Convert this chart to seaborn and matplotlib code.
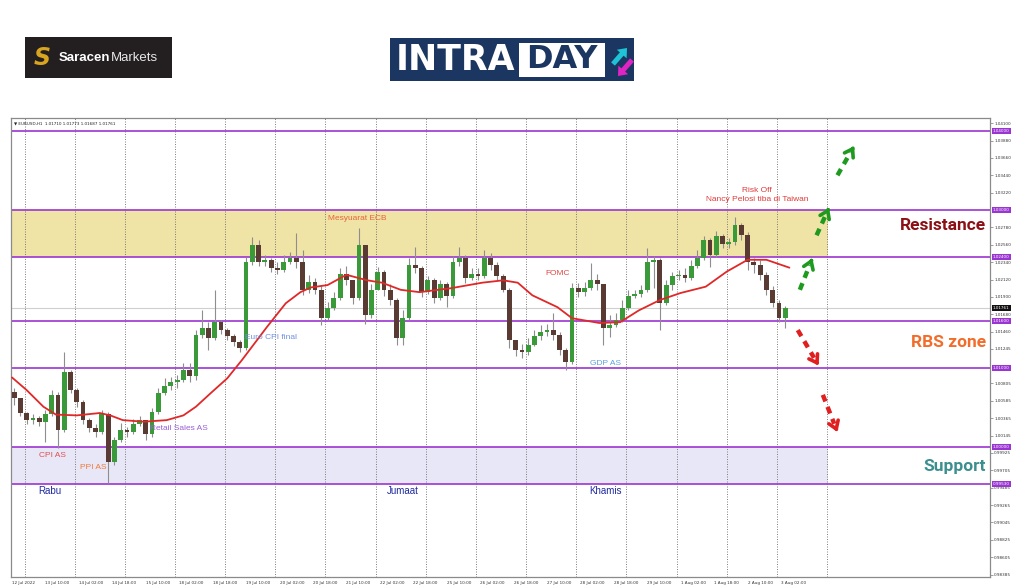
import numpy as np
import pandas as pd
import matplotlib
matplotlib.use('Agg')
import matplotlib.pyplot as plt
import matplotlib.transforms as mtransforms
from matplotlib.patches import Rectangle, FancyArrow
import seaborn as sns

# ---- data: EURUSD, 3-hour candles (x in hours from 12 Jul 18:00)
first_open = 1.0070
closes = [
    1.0062, 1.0043, 1.0034, 1.0037, 1.0032, 1.0042, 1.0066, 1.0022, 1.0095, 1.0072,
    1.0057, 1.0034, 1.0024, 1.0019, 1.0042, 0.9981, 1.0009, 1.0022, 1.0019, 1.0029,
    1.0034, 1.0016, 1.0044, 1.0068, 1.0077, 1.0082, 1.0085, 1.0097, 1.0090, 1.0142,
    1.0151, 1.0138, 1.0158, 1.0148, 1.0141, 1.0133, 1.0125, 1.0234, 1.0256, 1.0234,
    1.0237, 1.0227, 1.0224, 1.0234, 1.0239, 1.0234, 1.0199, 1.0209, 1.0199, 1.0163,
    1.0176, 1.0189, 1.0219, 1.0211, 1.0189, 1.0256, 1.0167, 1.0199, 1.0222, 1.0199,
    1.0186, 1.0138, 1.0163, 1.0230, 1.0227, 1.0196, 1.0211, 1.0189, 1.0206, 1.0191,
    1.0234, 1.0239, 1.0214, 1.0219, 1.0216, 1.0239, 1.0230, 1.0216, 1.0199, 1.0135,
    1.0123, 1.0120, 1.0129, 1.0141, 1.0146, 1.0148, 1.0142, 1.0123, 1.0108, 1.0201,
    1.0196, 1.0201, 1.0211, 1.0206, 1.0151, 1.0154, 1.0161, 1.0176, 1.0191, 1.0194,
    1.0199, 1.0234, 1.0237, 1.0182, 1.0205, 1.0216, 1.0218, 1.0214, 1.0229, 1.0239,
    1.0262, 1.0243, 1.0267, 1.0257, 1.0260, 1.0281, 1.0268, 1.0234, 1.0230, 1.0218,
    1.0199, 1.0182, 1.0163, 1.0176]
highs = [
    1.0075, 1.0062, 1.0044, 1.0042, 1.0039, 1.0047, 1.0072, 1.0070, 1.0120, 1.0097,
    1.0075, 1.0059, 1.0037, 1.0029, 1.0047, 1.0044, 1.0013, 1.0030, 1.0025, 1.0035,
    1.0039, 1.0034, 1.0049, 1.0075, 1.0087, 1.0089, 1.0091, 1.0106, 1.0106, 1.0148,
    1.0173, 1.0158, 1.0199, 1.0161, 1.0151, 1.0143, 1.0135, 1.0241, 1.0266, 1.0262,
    1.0243, 1.0239, 1.0234, 1.0243, 1.0247, 1.0271, 1.0249, 1.0218, 1.0214, 1.0205,
    1.0184, 1.0196, 1.0227, 1.0229, 1.0211, 1.0277, 1.0256, 1.0206, 1.0228, 1.0224,
    1.0206, 1.0189, 1.0173, 1.0239, 1.0253, 1.0229, 1.0216, 1.0214, 1.0211, 1.0209,
    1.0242, 1.0253, 1.0243, 1.0227, 1.0227, 1.0249, 1.0246, 1.0234, 1.0219, 1.0201,
    1.0135, 1.0130, 1.0138, 1.0148, 1.0154, 1.0156, 1.0170, 1.0146, 1.0125, 1.0208,
    1.0208, 1.0209, 1.0233, 1.0219, 1.0206, 1.0167, 1.0170, 1.0186, 1.0199, 1.0199,
    1.0205, 1.0252, 1.0242, 1.0239, 1.0211, 1.0222, 1.0224, 1.0227, 1.0237, 1.0249,
    1.0267, 1.0265, 1.0273, 1.0270, 1.0265, 1.0291, 1.0284, 1.0272, 1.0239, 1.0237,
    1.0222, 1.0204, 1.0186, 1.0178]
lows = [
    1.0053, 1.0039, 1.0029, 1.0029, 1.0027, 1.0006, 1.0039, 0.9999, 1.0019, 1.0068,
    1.0051, 1.0029, 1.0019, 1.0013, 1.0016, 0.9954, 0.9977, 1.0006, 1.0013, 1.0016,
    1.0027, 1.0009, 1.0013, 1.0042, 1.0066, 1.0072, 1.0075, 1.0082, 1.0082, 1.0085,
    1.0138, 1.0123, 1.0135, 1.0143, 1.0135, 1.0128, 1.0120, 1.0123, 1.0230, 1.0229,
    1.0229, 1.0222, 1.0219, 1.0222, 1.0232, 1.0227, 1.0192, 1.0195, 1.0194, 1.0154,
    1.0161, 1.0173, 1.0186, 1.0205, 1.0181, 1.0186, 1.0156, 1.0163, 1.0199, 1.0191,
    1.0180, 1.0129, 1.0129, 1.0161, 1.0220, 1.0190, 1.0194, 1.0182, 1.0186, 1.0177,
    1.0189, 1.0229, 1.0208, 1.0211, 1.0211, 1.0214, 1.0224, 1.0211, 1.0196, 1.0125,
    1.0115, 1.0113, 1.0116, 1.0128, 1.0135, 1.0141, 1.0135, 1.0116, 1.0097, 1.0105,
    1.0190, 1.0191, 1.0199, 1.0199, 1.0129, 1.0139, 1.0152, 1.0158, 1.0174, 1.0189,
    1.0190, 1.0196, 1.0201, 1.0148, 1.0180, 1.0199, 1.0211, 1.0209, 1.0211, 1.0227,
    1.0237, 1.0228, 1.0241, 1.0252, 1.0252, 1.0256, 1.0262, 1.0224, 1.0220, 1.0211,
    1.0192, 1.0177, 1.0158, 1.0151]

# moving average line
ma_hours = [0, 7, 15, 21, 31, 42, 47, 53, 63, 74, 82, 88, 95, 103, 110, 122, 131, 138,
            143, 151, 160, 170, 177, 186, 195, 210, 225, 235, 242, 249, 261, 268, 281,
            291, 300, 310, 320, 332, 342, 352, 361, 372]
ma_values = [1.0088, 1.0072, 1.0051, 1.0041, 1.0040, 1.0043, 1.0040, 1.0034, 1.0032,
             1.0034, 1.0040, 1.0051, 1.0068, 1.0087, 1.0110, 1.0152, 1.0182, 1.0196,
             1.0202, 1.0205, 1.0218, 1.0211, 1.0208, 1.0199, 1.0196, 1.0201, 1.0208,
             1.0211, 1.0208, 1.0192, 1.0177, 1.0163, 1.0157, 1.0158, 1.0173, 1.0186,
             1.0195, 1.0203, 1.0222, 1.0237, 1.0237, 1.0227]

levels = [1.04000, 1.03000, 1.02400, 1.01600, 1.01000, 1.00000, 0.99530]
last_price = 1.01761
resistance_zone = (1.02400, 1.03000)
support_zone = (0.99530, 1.00000)

ytick_vals = [1.04100, 1.03880, 1.03660, 1.03440, 1.03220, 1.02780, 1.02560, 1.02340,
              1.02120, 1.01900, 1.01680, 1.01460, 1.01245, 1.00805, 1.00585, 1.00365,
              1.00145, 0.99925, 0.99705, 0.99485, 0.99265, 0.99045, 0.98825, 0.98605,
              0.98385]
xtick_labels = ['12 Jul 2022', '13 Jul 10:00', '14 Jul 02:00', '14 Jul 18:00',
                '15 Jul 10:00', '18 Jul 02:00', '18 Jul 18:00', '19 Jul 10:00',
                '20 Jul 02:00', '20 Jul 18:00', '21 Jul 10:00', '22 Jul 02:00',
                '22 Jul 18:00', '25 Jul 10:00', '26 Jul 02:00', '26 Jul 18:00',
                '27 Jul 10:00', '28 Jul 02:00', '28 Jul 18:00', '29 Jul 10:00',
                '1 Aug 02:00', '1 Aug 18:00', '2 Aug 10:00', '3 Aug 02:00']

# ---- figure
sns.set_theme(style='white')
plt.rcParams['font.family'] = ['DejaVu Sans']

W, H = 1024, 587
fig = plt.figure(figsize=(W / 100, H / 100), dpi=100)
fig.patch.set_facecolor('white')


def fr(x0, y0, x1, y1):
    return [x0 / W, 1 - y1 / H, (x1 - x0) / W, (y1 - y0) / H]


ax = fig.add_axes(fr(11, 118, 990, 577))
ax.set_facecolor('white')
ax.set_xlim(-0.5, 468)
ax.set_ylim(0.98354, 1.04165)

df = pd.DataFrame({'hour': np.arange(len(closes)) * 3 + 1,
                   'open': [first_open] + closes[:-1],
                   'high': highs, 'low': lows, 'close': closes})
up = df['close'] >= df['open']

# zones
ax.fill_between([-0.5, 390.5], *resistance_zone, color='#efe3a6', lw=0, zorder=0)
ax.fill_between([-0.5, 390.5], *support_zone, color='#e7e7f7', lw=0, zorder=0)

# day separators
for h in range(6, 391, 24):
    ax.axvline(h, color='#6e6e6e', lw=0.6, ls=(0, (1.2, 1.8)), zorder=1)

ax.axhline(last_price, color='#cfcfcf', lw=0.8, zorder=1)
for lvl in levels:
    ax.axhline(lvl, color='#9b35d2', lw=1.2, zorder=2)

# candles
ax.vlines(df['hour'], df['low'], df['high'], color='#8e8e8e', lw=0.8, zorder=3)
ax.bar(df['hour'], df['close'] - df['open'], bottom=df['open'], width=2.3,
       color=np.where(up, '#3a9a3a', '#5a3b33'), lw=0, zorder=4)

sns.lineplot(x=ma_hours, y=ma_values, ax=ax, color='#e02828', lw=1.3, zorder=5)

# axes styling
for s in ax.spines.values():
    s.set_color('#8a8a8a')
    s.set_linewidth(0.9)
ax.yaxis.tick_right()
ax.set_yticks(ytick_vals)
ax.set_yticklabels([f'{v:.5f}' for v in ytick_vals], fontsize=3, color='#333333')
ax.set_xticks(list(range(0, 369, 16)))
ax.set_xticklabels(xtick_labels, fontsize=3, color='#333333', ha='left')
ax.tick_params(axis='both', length=2, width=0.5, color='#777777', pad=1)
ax.set_xlabel('')
ax.set_ylabel('')

trans = mtransforms.blended_transform_factory(ax.transAxes, ax.transData)
for lvl in levels:
    ax.text(1.003, lvl, f'{lvl:.5f}', transform=trans, fontsize=3, color='white',
            va='center', ha='left', clip_on=False,
            bbox=dict(boxstyle='square,pad=0.25', fc='#9b35d2', ec='none'))
ax.text(1.003, last_price, f'{last_price:.5f}', transform=trans, fontsize=3,
        color='white', va='center', ha='left', clip_on=False,
        bbox=dict(boxstyle='square,pad=0.25', fc='#111111', ec='none'))

ax.text(0.003, 0.993, '\u25bc EURUSD,H1  1.01710 1.01773 1.01687 1.01761',
        transform=ax.transAxes, fontsize=3, va='top', ha='left', color='#222222')

# event notes
note_font = ['Liberation Sans', 'DejaVu Sans']
notes = [
    ('Mesyuarat ECB', 165, 1.0289, '#e8653a'),
    ('Risk Off', 356.5, 1.0325, '#e03a3a'),
    ('Nancy Pelosi tiba di Taiwan', 356.5, 1.0313, '#e03a3a'),
    ('FOMC', 261, 1.0220, '#e04848'),
    ('Euro CPI final', 124, 1.0139, '#6f8fe0'),
    ('GDP AS', 284, 1.0106, '#5fa0e0'),
    ('Retail Sales AS', 80, 1.0023, '#9a5fd6'),
    ('CPI AS', 19.5, 0.99886, '#e04f4f'),
    ('PPI AS', 39, 0.99734, '#f07a3c'),
]
for txt, hx, py, col in notes:
    ax.text(hx, py, txt, fontsize=6, color=col, ha='center', va='center',
            family=note_font, zorder=6)
for txt, hx in [('Rabu', 18), ('Jumaat', 187), ('Khamis', 284)]:
    ax.text(hx, 0.99443, txt, fontsize=7, color='#1f2aa0', ha='center', va='center',
            family=note_font, zorder=6)

big_font = ['Roboto', 'DejaVu Sans']
ax.text(466, 1.0280, 'Resistance', fontsize=12.5, fontweight='bold', color='#8b0f14',
        ha='right', va='center', family=big_font)
ax.text(466, 1.0132, 'RBS zone', fontsize=12.5, fontweight='bold', color='#f26c2a',
        ha='right', va='center', family=big_font)
ax.text(466, 0.99747, 'Support', fontsize=12.5, fontweight='bold', color='#3b8f8f',
        ha='right', va='center', family=big_font)


# dashed direction arrows with chevron heads
def dash_arrow(x0, y0, x1, y1, col):
    ax.plot([x0, x0 + (x1 - x0) * 0.78], [y0, y0 + (y1 - y0) * 0.78], color=col,
            lw=3.2, ls=(0, (1.6, 1.3)), solid_capstyle='butt', zorder=6)
    ax.annotate('', xy=(x1, y1), xytext=(x0 + (x1 - x0) * 0.9, y0 + (y1 - y0) * 0.9),
                arrowprops=dict(arrowstyle='->,head_length=0.45,head_width=0.3',
                                color=col, lw=2.6, shrinkA=0, shrinkB=0), zorder=6)


green, red = '#1e9a1e', '#e02020'
dash_arrow(377, 1.0199, 383, 1.0239, green)
dash_arrow(385, 1.0268, 391, 1.0303, green)
dash_arrow(395, 1.0344, 403, 1.0381, green)
dash_arrow(376, 1.0148, 386, 1.0103, red)
dash_arrow(388, 1.0066, 395, 1.0019, red)

# ---- header logos (pixel overlay)
ov = fig.add_axes([0, 0, 1, 1])
ov.set_xlim(0, W)
ov.set_ylim(H, 0)
ov.axis('off')

ov.add_patch(Rectangle((25, 37), 147, 41, fc='#231f20', ec='none'))
ov.text(42, 58, 'S', color='#d9a521', fontsize=17, fontweight='bold', style='italic',
        ha='center', va='center', family=['DejaVu Sans'])
t1 = ov.text(59, 58, 'Saracen', color='white', fontsize=9.5, fontweight='bold',
             va='center', ha='left', family=note_font)
fig.canvas.draw()
bb = t1.get_window_extent()
x_end = ov.transData.inverted().transform((bb.x1, bb.y0))[0]
ov.text(x_end, 58, 'Markets', color='#e8e8e8', fontsize=9.5, va='center', ha='left',
        family=note_font)

ov.add_patch(Rectangle((390, 38), 244, 43, fc='#1b3661', ec='none'))
ov.text(396, 60, 'INTRA', color='white', fontsize=25, fontweight='bold', va='center',
        ha='left', family=['DejaVu Sans'])
ov.add_patch(Rectangle((519, 43), 86, 34, fc='white', ec='none'))
ov.text(562, 60, 'DAY', color='#1b3661', fontsize=23, fontweight='bold', va='center',
        ha='center', family=['DejaVu Sans'])
ov.add_patch(FancyArrow(613, 64, 14, -16, width=5, head_width=13, head_length=8,
                        length_includes_head=True, color='#1ec3d6', lw=0))
ov.add_patch(FancyArrow(632, 60, -14, 16, width=5, head_width=13, head_length=8,
                        length_includes_head=True, color='#e024c4', lw=0))

fig.savefig('out.png', dpi=100)
